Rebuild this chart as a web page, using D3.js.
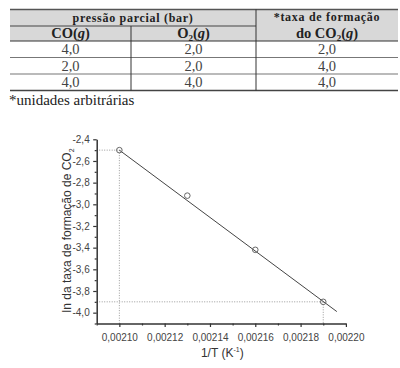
<!DOCTYPE html>
<html>
<head>
<meta charset="utf-8">
<script src="https://cdn.jsdelivr.net/npm/d3@7"></script>
<style>
  body { margin: 0; background: #fff; }
  svg { display: block; }
</style>
</head>
<body>
<div id="chart"></div>
<script>
// table values
const coVals = ['4,0', '2,0', '4,0'];
const o2Vals = ['2,0', '2,0', '4,0'];
const rateVals = ['2,0', '4,0', '4,0'];

// plot values
const invT = [0.00210, 0.00213, 0.00216, 0.00219];
const lnRate = [-2.50, -2.92, -3.42, -3.90];
const fitX = [0.00210, 0.002196];
const fitY = [-2.50, -3.99];
const xTicks = [0.00210, 0.00212, 0.00214, 0.00216, 0.00218, 0.00220];
const yTicks = [-4.0, -3.8, -3.6, -3.4, -3.2, -3.0, -2.8, -2.6, -2.4];

const svg = d3.select('#chart').append('svg')
  .attr('width', 400)
  .attr('height', 368);

// ---------- table ----------
const serif = '"Liberation Serif", "Times New Roman", serif';
const cols = [10, 131, 256, 398];
const rows = [9.5, 26, 41, 57.5, 74, 90.5];
const table = svg.append('g');

table.append('rect')
  .attr('x', cols[0]).attr('y', rows[0])
  .attr('width', cols[3] - cols[0]).attr('height', rows[2] - rows[0])
  .attr('fill', '#d8d8d8');

function hline(y, x1, x2, w, c) {
  table.append('line')
    .attr('x1', x1).attr('x2', x2).attr('y1', y).attr('y2', y)
    .attr('stroke', c).attr('stroke-width', w);
}
function vline(x, y1, y2) {
  table.append('line')
    .attr('x1', x).attr('x2', x).attr('y1', y1).attr('y2', y2)
    .attr('stroke', '#333').attr('stroke-width', 1);
}
hline(rows[0], cols[0], cols[3], 1.6, '#555');
hline(rows[1], cols[0], cols[2], 1, '#444');
hline(rows[2], cols[0], cols[3], 1, '#333');
hline(rows[3], cols[0], cols[3], 1.2, '#777');
hline(rows[4], cols[0], cols[3], 1.2, '#777');
hline(rows[5], cols[0], cols[3], 1.4, '#444');
vline(cols[1], rows[1], rows[5]);
vline(cols[2], rows[0], rows[5]);

function cellText(x, y, txt, size, bold) {
  return table.append('text')
    .attr('x', x).attr('y', y)
    .attr('text-anchor', 'middle')
    .style('font-family', serif)
    .style('font-size', size + 'px')
    .style('font-weight', bold ? 'bold' : 'normal')
    .attr('fill', '#222')
    .text(txt);
}
const c1 = (cols[0] + cols[1]) / 2;
const c2 = (cols[1] + cols[2]) / 2;
const c3 = (cols[2] + cols[3]) / 2;

cellText((cols[0] + cols[2]) / 2, 22, 'pressão parcial (bar)', 12, true)
  .style('letter-spacing', '0.7px');
cellText(c3, 21, '*taxa de formação', 12, true)
  .style('letter-spacing', '0.7px');

const coHead = cellText(c1, 37.5, '', 14.5, true);
coHead.append('tspan').text('CO(');
coHead.append('tspan').style('font-style', 'italic').text('g');
coHead.append('tspan').text(')');

const o2Head = cellText(c2, 37.5, '', 14.5, true);
o2Head.append('tspan').text('O');
o2Head.append('tspan').attr('dy', 3).style('font-size', '9px').text('2');
o2Head.append('tspan').attr('dy', -3).text('(');
o2Head.append('tspan').style('font-style', 'italic').text('g');
o2Head.append('tspan').text(')');

const rHead = cellText(c3, 37.5, '', 14.5, true);
rHead.append('tspan').text('do CO');
rHead.append('tspan').attr('dy', 3).style('font-size', '9px').text('2');
rHead.append('tspan').attr('dy', -3).text('(');
rHead.append('tspan').style('font-style', 'italic').text('g');
rHead.append('tspan').text(')');

const baselines = [54, 70.5, 87];
coVals.forEach((v, i) => cellText(c1, baselines[i], v, 14.5, false).attr('fill', '#444'));
o2Vals.forEach((v, i) => cellText(c2, baselines[i], v, 14.5, false).attr('fill', '#444'));
rateVals.forEach((v, i) => cellText(c3, baselines[i], v, 14.5, false).attr('fill', '#444'));

svg.append('text')
  .attr('x', 9).attr('y', 105)
  .style('font-family', serif)
  .style('font-size', '15px')
  .attr('fill', '#222')
  .text('*unidades arbitrárias');

// ---------- plot ----------
const sans = '"Liberation Sans", Arial, sans-serif';
const x = d3.scaleLinear().domain([0.00209, 0.00220]).range([96.7, 345.9]);
const y = d3.scaleLinear().domain([-4.1, -2.4]).range([323.5, 139.3]);
const fmt = (f) => (v) => d3.format(f)(v).replace('.', ',').replace('\u2212', '-');

const plot = svg.append('g');

// dotted guide lines
const guide = '#9a9a9a';
function dotted(x1, y1, x2, y2) {
  plot.append('line')
    .attr('x1', x1).attr('y1', y1).attr('x2', x2).attr('y2', y2)
    .attr('stroke', guide).attr('stroke-width', 1)
    .attr('stroke-dasharray', '1,1.5');
}
const last = invT.length - 1;
dotted(x.range()[0], y(lnRate[0]), x(invT[0]), y(lnRate[0]));
dotted(x(invT[0]), y(lnRate[0]), x(invT[0]), y.range()[0]);
dotted(x.range()[0], y(lnRate[last]), x(invT[last]), y(lnRate[last]));
dotted(x(invT[last]), y(lnRate[last]), x(invT[last]), y.range()[0]);

// fit line
plot.append('line')
  .attr('x1', x(fitX[0])).attr('y1', y(fitY[0]))
  .attr('x2', x(fitX[1])).attr('y2', y(fitY[1]))
  .attr('stroke', '#444').attr('stroke-width', 1);

// points
plot.selectAll('.pt')
  .data(invT)
  .join('circle')
  .attr('class', 'pt')
  .attr('cx', d => x(d))
  .attr('cy', (d, i) => y(lnRate[i]))
  .attr('r', 2.8)
  .attr('fill', 'none')
  .attr('stroke', '#666')
  .attr('stroke-width', 1);

// axes
const axisColor = '#333';
const xMinor = d3.range(0.00209, 0.002201, 0.00001).filter(v => Math.round(v * 1e5) % 2 === 1);
const yMinor = d3.range(-4.1, -2.39, 0.1).filter(v => Math.round(v * 10) % 2 !== 0);

const xAxisG = plot.append('g').attr('transform', `translate(0,${y.range()[0]})`);
xAxisG.call(d3.axisBottom(x).tickValues(xMinor).tickSize(2).tickFormat('').tickSizeOuter(0));
xAxisG.call(g => g.select('.domain').remove());
const xMajor = plot.append('g').attr('transform', `translate(0,${y.range()[0]})`)
  .call(d3.axisBottom(x).tickValues(xTicks).tickSize(3.5).tickPadding(7)
    .tickFormat(fmt('.5f')).tickSizeOuter(0));

const yAxisG = plot.append('g').attr('transform', `translate(${x.range()[0]},0)`);
yAxisG.call(d3.axisLeft(y).tickValues(yMinor).tickSize(2).tickFormat('').tickSizeOuter(0));
yAxisG.call(g => g.select('.domain').remove());
const yMajor = plot.append('g').attr('transform', `translate(${x.range()[0]},0)`)
  .call(d3.axisLeft(y).tickValues(yTicks).tickSize(3.5).tickPadding(3.5)
    .tickFormat(fmt('.1f')).tickSizeOuter(0));

[xAxisG, xMajor, yAxisG, yMajor].forEach(g => {
  g.selectAll('line').attr('stroke', axisColor).attr('stroke-width', 1.2);
  g.selectAll('.domain').attr('stroke', axisColor).attr('stroke-width', 1.5);
  g.selectAll('text')
    .style('font-family', sans)
    .style('font-size', '10px')
    .attr('fill', '#444');
});

// axis titles
const xTitle = plot.append('text')
  .attr('x', (x.range()[0] + x.range()[1]) / 2 + 1)
  .attr('y', 357)
  .attr('text-anchor', 'middle')
  .style('font-family', sans)
  .style('font-size', '12px')
  .attr('fill', '#333');
xTitle.append('tspan').text('1/T (K');
xTitle.append('tspan').attr('dy', -5).style('font-size', '7px').text('-1');
xTitle.append('tspan').attr('dy', 5).text(')');

const yTitle = plot.append('text')
  .attr('transform', `translate(71,${(y.range()[0] + y.range()[1]) / 2 - 1}) rotate(-90)`)
  .attr('text-anchor', 'middle')
  .style('font-family', sans)
  .style('font-size', '12px')
  .attr('fill', '#333');
yTitle.append('tspan').text('ln da taxa de formação de CO');
yTitle.append('tspan').attr('dy', 3).style('font-size', '7px').text('2');
</script>
</body>
</html>
